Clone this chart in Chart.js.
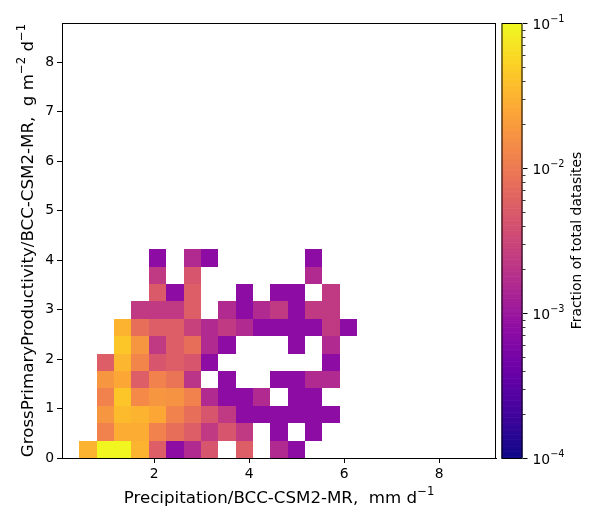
<!DOCTYPE html>
<html>
<head>
<meta charset="utf-8">
<script src="https://cdn.jsdelivr.net/npm/chart.js@4"></script>
<style>
  html, body { margin: 0; padding: 0; background: #fff; }
  #wrap { position: relative; width: 600px; height: 525px; }
  #wrap canvas { position: absolute; top: 0; }
</style>
</head>
<body>
<div id="wrap">
  <canvas id="heat" width="500" height="525" style="left:0"></canvas>
  <canvas id="cbar" width="100" height="525" style="left:500px"></canvas>
</div>
<script>
/* ── 축 범위 / 구간 ── */
var xMin = 0.061, xMax = 9.195;
var yMin = 0, yMax = 8.79;
var nBins = 25;

var xTickValues = [2, 4, 6, 8];
var yTickValues = [0, 1, 2, 3, 4, 5, 6, 7, 8];
var cbTickValues = [1e-4, 1e-3, 1e-2, 1e-1];
var cbTickExps = ['\u22124', '\u22123', '\u22122', '\u22121'];

// fraction of datasites per cell, row 0 = lowest GPP bin, column 0 = lowest precip bin
var _ = null;
var fracRow0  = [_, 3.2e-2, 9.5e-2, 9.5e-2, 3.2e-2, 5.5e-3, 7.5e-4, 1.6e-3, 4.5e-3, _, 5.5e-3, _, 1.6e-3, 7.5e-4];
var fracRow1  = [_, _, 1.2e-2, 2.8e-2, 2.8e-2, 1.2e-2, 8e-3, 5.5e-3, 2.3e-3, 4.5e-3, 2.3e-3, _, 7.5e-4, _, 7.5e-4];
var fracRow2  = [_, _, 1.8e-2, 3.6e-2, 3.2e-2, 2.5e-2, 1.2e-2, 8e-3, 4.5e-3, 2.3e-3, 7.5e-4, 7.5e-4, 7.5e-4, 7.5e-4, 7.5e-4, 7.5e-4];
var fracRow3  = [_, _, 1.2e-2, 4.4e-2, 1.4e-2, 1.8e-2, 1.7e-2, 1.2e-2, 1.6e-3, 7.5e-4, 7.5e-4, 1.6e-3, _, 7.5e-4, 7.5e-4];
var fracRow4  = [_, _, 1.8e-2, 2.5e-2, 5.5e-3, 1.2e-2, 9e-3, 2e-3, _, 7.5e-4, _, _, 7.5e-4, 7.5e-4, 1.6e-3, 1.6e-3];
var fracRow5  = [_, _, 5.5e-3, 3.3e-2, 1.3e-2, 4.5e-3, 5.5e-3, 4.5e-3, 7.5e-4, _, _, _, _, _, _, 7.5e-4];
var fracRow6  = [_, _, _, 4.4e-2, 1.8e-2, 2.3e-3, 5.5e-3, 8e-3, 1.6e-3, 7.5e-4, _, _, _, 7.5e-4, _, 1.6e-3];
var fracRow7  = [_, _, _, 3.2e-2, 8e-3, 5.5e-3, 5.5e-3, 2.8e-3, 1.6e-3, 2.3e-3, 1.6e-3, 7.5e-4, 7.5e-4, 7.5e-4, 7.5e-4, 2.3e-3, 7.5e-4];
var fracRow8  = [_, _, _, _, 2.3e-3, 2.3e-3, 2.3e-3, 5.5e-3, _, 1.6e-3, 7.5e-4, 1.6e-3, 2.3e-3, 7.5e-4, 2.3e-3, 2.3e-3];
var fracRow9  = [_, _, _, _, _, 5e-3, 7.5e-4, 5.5e-3, _, _, 7.5e-4, _, 7.5e-4, 7.5e-4, _, 2.3e-3];
var fracRow10 = [_, _, _, _, _, 2.3e-3, _, 4.5e-3, _, _, _, _, _, _, 1.6e-3];
var fracRow11 = [_, _, _, _, _, 7.5e-4, _, 1.6e-3, 7.5e-4, _, _, _, _, _, 7.5e-4];
var fracRows = [fracRow0, fracRow1, fracRow2, fracRow3, fracRow4, fracRow5,
                fracRow6, fracRow7, fracRow8, fracRow9, fracRow10, fracRow11];

var cbMin = 1e-4, cbMax = 1e-1;

/* ── plasma 컬러맵 ── */
var plasmaStops = ['#0d0887', '#41049d', '#6a00a8', '#8f0da4', '#b12a90', '#cc4778',
                   '#e16462', '#f2844b', '#fca636', '#fcce25', '#f0f921'];
function hexRgb(h) {
  return [parseInt(h.substr(1, 2), 16), parseInt(h.substr(3, 2), 16), parseInt(h.substr(5, 2), 16)];
}
function plasma(t) {
  t = Math.max(0, Math.min(1, t));
  var p = t * (plasmaStops.length - 1);
  var i = Math.min(Math.floor(p), plasmaStops.length - 2);
  var f = p - i;
  var a = hexRgb(plasmaStops[i]), b = hexRgb(plasmaStops[i + 1]);
  return 'rgb(' + Math.round(a[0] + (b[0] - a[0]) * f) + ',' +
    Math.round(a[1] + (b[1] - a[1]) * f) + ',' + Math.round(a[2] + (b[2] - a[2]) * f) + ')';
}
function fracColor(v) {
  var lo = Math.log10(cbMin), hi = Math.log10(cbMax);
  return plasma((Math.log10(v) - lo) / (hi - lo));
}

/* ── 위첨자 텍스트 (matplotlib mathtext 흉내) ── */
var FONT = '"DejaVu Sans"';
function richWidth(ctx, segs, size) {
  var w = 0;
  segs.forEach(function(s) {
    ctx.font = (s[1] ? size * 0.7 : size) + 'px ' + FONT;
    w += ctx.measureText(s[0]).width;
  });
  return w;
}
function drawRich(ctx, segs, x, y, size, align) {
  var w = richWidth(ctx, segs, size);
  var cx = align === 'center' ? x - w / 2 : x;
  ctx.textAlign = 'left';
  ctx.textBaseline = 'alphabetic';
  segs.forEach(function(s) {
    var fs = s[1] ? size * 0.7 : size;
    ctx.font = fs + 'px ' + FONT;
    ctx.fillText(s[0], cx, s[1] ? y - size * 0.45 : y);
    cx += ctx.measureText(s[0]).width;
  });
}

/* ── 셀 데이터 구성 ── */
var binW = (xMax - xMin) / nBins;
var binH = (yMax - yMin) / nBins;
var cellPoints = [];
fracRows.forEach(function(row, r) {
  row.forEach(function(v, c) {
    if (v === null) return;
    cellPoints.push({ x: xMin + (c + 0.5) * binW, y: yMin + (r + 0.5) * binH, v: v });
  });
});

var tickFont = { family: 'DejaVu Sans', size: 13.9 };
var labelSize = 16.67;
var xTitle = [['Precipitation/BCC-CSM2-MR,  mm d', false], ['\u22121', true]];
var yTitle = [['GrossPrimaryProductivity/BCC-CSM2-MR,  g m', false], ['\u22122', true], [' d', false], ['\u22121', true]];

var heatCells = {
  id: 'heatCells',
  beforeDatasetsDraw: function(chart) {
    var ctx = chart.ctx, xs = chart.scales.x, ys = chart.scales.y;
    ctx.save();
    chart.data.datasets[0].data.forEach(function(p) {
      var x0 = Math.round(xs.getPixelForValue(p.x - binW / 2)), x1 = Math.round(xs.getPixelForValue(p.x + binW / 2));
      var y0 = Math.round(ys.getPixelForValue(p.y + binH / 2)), y1 = Math.round(ys.getPixelForValue(p.y - binH / 2));
      ctx.fillStyle = fracColor(p.v);
      ctx.fillRect(x0, y0, x1 - x0, y1 - y0);
    });
    ctx.restore();
  },
  afterDraw: function(chart) {
    var a = chart.chartArea, ctx = chart.ctx;
    ctx.save();
    ctx.strokeStyle = '#000';
    ctx.lineWidth = 1;
    ctx.strokeRect(a.left + 0.5, a.top + 0.5, a.right - a.left - 1, a.bottom - a.top);
    ctx.fillStyle = '#000';
    drawRich(ctx, xTitle, (a.left + a.right) / 2, 503, labelSize, 'center');
    ctx.translate(33, (a.top + a.bottom) / 2);
    ctx.rotate(-Math.PI / 2);
    drawRich(ctx, yTitle, 0, 0, labelSize, 'center');
    ctx.restore();
  }
};

function axisStyle() {
  return {
    grid: { drawOnChartArea: false, drawTicks: true, tickLength: 5, color: '#000', lineWidth: 1 },
    border: { display: true, color: '#000', width: 1 },
    ticks: { color: '#000', font: tickFont, padding: 3, maxRotation: 0, autoSkip: false }
  };
}

var xAxis = Object.assign(axisStyle(), {
  type: 'linear', min: xMin, max: xMax,
  afterBuildTicks: function(s) { s.ticks = xTickValues.map(function(v) { return { value: v }; }); },
  afterFit: function(s) { s.height = 67; }
});
var yAxis = Object.assign(axisStyle(), {
  type: 'linear', min: yMin, max: yMax,
  afterBuildTicks: function(s) { s.ticks = yTickValues.map(function(v) { return { value: v }; }); },
  afterFit: function(s) { s.width = 62; }
});

new Chart(document.getElementById('heat').getContext('2d'), {
  type: 'scatter',
  data: { datasets: [{ data: cellPoints, pointRadius: 0, pointHoverRadius: 0 }] },
  options: {
    responsive: false, animation: false, events: [],
    layout: { padding: { top: 23, right: 4, left: 0, bottom: 0 } },
    plugins: { legend: { display: false }, tooltip: { enabled: false } },
    scales: { x: xAxis, y: yAxis }
  },
  plugins: [heatCells]
});

/* ── 컬러바 ── */
var cbarDraw = {
  id: 'cbarDraw',
  beforeDatasetsDraw: function(chart) {
    var ctx = chart.ctx, a = chart.chartArea, ys = chart.scales.y;
    var lo = Math.log10(cbMin), hi = Math.log10(cbMax), n = 256;
    ctx.save();
    for (var i = 0; i < n; i++) {
      var v0 = Math.pow(10, lo + (hi - lo) * i / n), v1 = Math.pow(10, lo + (hi - lo) * (i + 1) / n);
      var yb = ys.getPixelForValue(v0), yt = ys.getPixelForValue(v1);
      ctx.fillStyle = plasma((i + 0.5) / n);
      ctx.fillRect(a.left, yt, a.right - a.left, yb - yt + 0.6);
    }
    // minor ticks
    ctx.strokeStyle = '#000';
    ctx.lineWidth = 0.8;
    for (var d = -4; d < -1; d++) {
      for (var m = 2; m <= 9; m++) {
        var y = Math.round(ys.getPixelForValue(m * Math.pow(10, d))) + 0.5;
        ctx.beginPath();
        ctx.moveTo(a.right, y);
        ctx.lineTo(a.right + 3, y);
        ctx.stroke();
      }
    }
    ctx.lineWidth = 1;
    ctx.strokeRect(a.left + 0.5, a.top + 0.5, a.right - a.left - 1, a.bottom - a.top);
    // major tick labels 10^k
    ctx.fillStyle = '#000';
    cbTickValues.forEach(function(v, i) {
      var ty = ys.getPixelForValue(v);
      drawRich(ctx, [['10', false], [cbTickExps[i], true]], a.right + 10, ty + 5.5, 13.9, 'left');
    });
    // label
    ctx.font = '13.9px ' + FONT;
    ctx.textAlign = 'center';
    ctx.textBaseline = 'middle';
    ctx.translate(77, (a.top + a.bottom) / 2);
    ctx.rotate(-Math.PI / 2);
    ctx.fillText('Fraction of total datasites', 0, 0);
    ctx.restore();
  }
};

new Chart(document.getElementById('cbar').getContext('2d'), {
  type: 'scatter',
  data: { datasets: [{ data: [], pointRadius: 0 }] },
  options: {
    responsive: false, animation: false, events: [],
    layout: { padding: { top: 23, right: 0, left: 1.5, bottom: 67 } },
    plugins: { legend: { display: false }, tooltip: { enabled: false } },
    scales: {
      x: { display: false, min: 0, max: 1 },
      y: {
        type: 'logarithmic', position: 'right', min: cbMin, max: cbMax,
        afterBuildTicks: function(s) { s.ticks = cbTickValues.map(function(v) { return { value: v }; }); },
        afterFit: function(s) { s.width = 77.5; },
        grid: { drawOnChartArea: false, drawTicks: true, tickLength: 5, color: '#000', lineWidth: 1 },
        border: { display: false },
        ticks: { display: false }
      }
    }
  },
  plugins: [cbarDraw]
});
</script>
</body>
</html>
